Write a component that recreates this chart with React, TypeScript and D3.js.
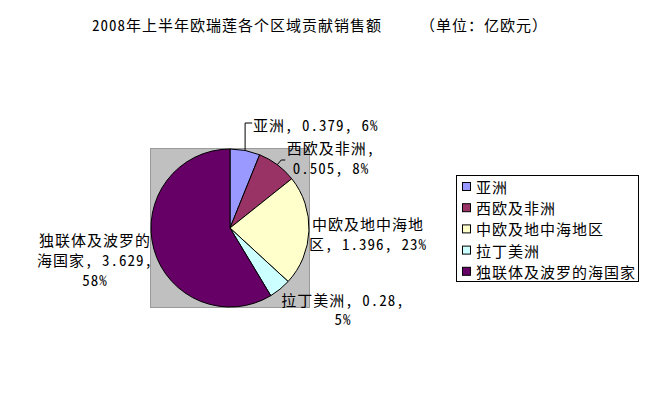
import React from "react";
import * as d3 from "d3";

const categories = ["亚洲", "西欧及非洲", "中欧及地中海地区", "拉丁美洲", "独联体及波罗的海国家"];
const values = [0.379, 0.505, 1.396, 0.28, 3.629];
const valueLabels = ["0.379", "0.505", "1.396", "0.28", "3.629"];
const percentLabels = ["6%", "8%", "23%", "5%", "58%"];
const colors = ["#9999FF", "#993366", "#FFFFCC", "#CCFFFF", "#660066"];
const titleText = "2008年上半年欧瑞莲各个区域贡献销售额";
const unitText = "（单位：亿欧元）";
// where the label text wraps (character indices)
const labelBreaks = [[], [6], [7], [11], [7, 18]];

const W = 650;
const H = 419;
const FONT = "'Noto Sans Mono CJK SC','Noto Sans CJK SC',sans-serif";

const cx = 230;
const cy = 228;
const R = 79;

// label layout: anchor, x, first baseline, line height
const labelLayout = [
  { anchor: "start", x: 253, y: 131, lh: 20 },
  { anchor: "middle", x: 331, y: 154, lh: 20 },
  { anchor: "middle", x: 368, y: 230, lh: 20 },
  { anchor: "middle", x: 343, y: 306, lh: 19 },
  { anchor: "middle", x: 95, y: 246, lh: 20 },
];

function splitLines(s: string, breaks: number[]) {
  const out: string[] = [];
  let prev = 0;
  for (const b of breaks) {
    out.push(s.slice(prev, b).trim());
    prev = b;
  }
  out.push(s.slice(prev).trim());
  return out;
}

export default function App() {
  const pie = d3
    .pie<number>()
    .sort(null)
    .value((d) => d)
    .startAngle(0)
    .endAngle(2 * Math.PI);
  const arcs = pie(values);
  const arc = d3.arc<d3.PieArcDatum<number>>().innerRadius(0).outerRadius(R);

  const edgePt = (a: number) => [cx + R * Math.sin(a), cy - R * Math.cos(a)];
  const mid = (d: d3.PieArcDatum<number>) => (d.startAngle + d.endAngle) / 2;

  const p0 = edgePt(mid(arcs[0]));
  const p1 = edgePt(mid(arcs[1]));
  const leader0 = d3.line()([
    [p0[0], p0[1]],
    [p0[0], 123],
    [p0[0] + 7, 123],
  ]);
  const leader1 = d3.line()([
    [p1[0], p1[1]],
    [p1[0] + 4, 160],
    [p1[0] + 8, 160],
  ]);

  const rowY = d3.scaleLinear().domain([0, 1]).range([187, 208.2]);

  return (
    <svg
      width={W}
      height={H}
      style={{ position: "absolute", left: 0, top: 0, background: "#fff" }}
      fontFamily={FONT}
      fontSize={15}
    >
      <rect x={0} y={0} width={W} height={H} fill="#fff" />
      <text x={92} y={31} letterSpacing={1} fill="#000">
        {titleText}
      </text>
      <text x={420} y={31} letterSpacing={1} fill="#000">
        {unitText}
      </text>

      <rect
        x={cx - R - 0.5}
        y={cy - R - 0.5}
        width={2 * R + 1}
        height={2 * R + 1}
        fill="#C0C0C0"
        stroke="#9a9a9a"
        strokeWidth={1}
      />
      <g transform={`translate(${cx},${cy})`}>
        {arcs.map((d, i) => (
          <path key={i} d={arc(d) || ""} fill={colors[i]} stroke="#000" strokeWidth={1} />
        ))}
      </g>

      <path d={leader0 || ""} fill="none" stroke="#000" strokeWidth={1} />
      <path d={leader1 || ""} fill="none" stroke="#000" strokeWidth={1} />

      {categories.map((c, i) => {
        const full = `${c}, ${valueLabels[i]}, ${percentLabels[i]}`;
        const lines = splitLines(full, labelBreaks[i]);
        const L = labelLayout[i];
        return (
          <text key={i} textAnchor={L.anchor as any} fill="#000" letterSpacing={1}>
            {lines.map((ln, j) => (
              <tspan key={j} x={L.x} y={L.y + j * L.lh}>
                {ln}
              </tspan>
            ))}
          </text>
        );
      })}

      <rect x={456.5} y={175.5} width={182} height={106} fill="#fff" stroke="#000" strokeWidth={1} />
      {categories.map((c, i) => (
        <g key={i}>
          <rect
            x={462.5}
            y={rowY(i) - 4.5}
            width={8}
            height={8}
            fill={colors[i]}
            stroke="#000"
            strokeWidth={1}
          />
          <text x={476} y={rowY(i) + 6} letterSpacing={1} fill="#000">
            {c}
          </text>
        </g>
      ))}
    </svg>
  );
}
